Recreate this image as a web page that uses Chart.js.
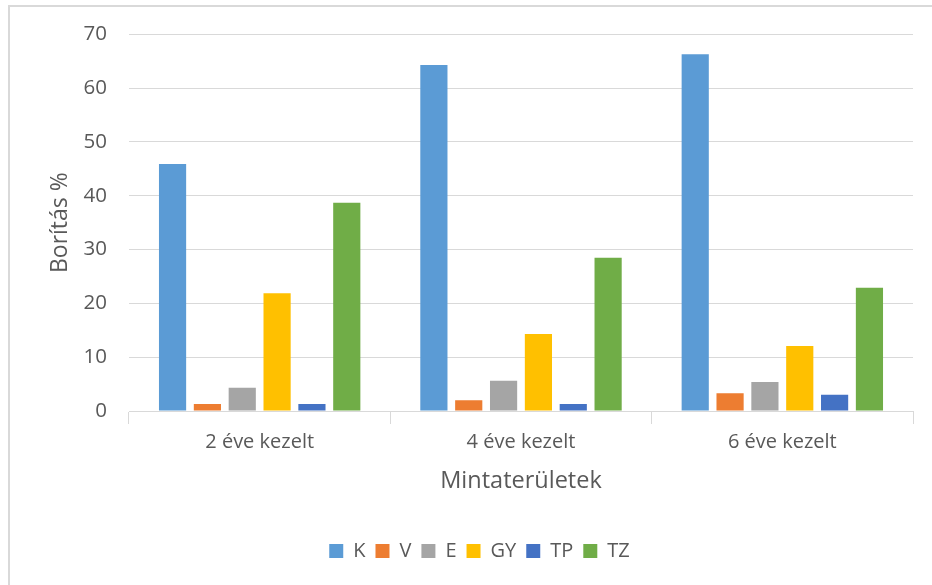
<!DOCTYPE html>
<html>
<head>
<meta charset="utf-8">
<script src="https://cdn.jsdelivr.net/npm/chart.js@4"></script>
<style>
  html, body { margin: 0; padding: 0; background: #fff; overflow: hidden; }
  #wrap { position: relative; width: 932px; height: 585px; }
  #frame { position: absolute; left: 8px; top: 5px; width: 1000px; height: 700px; border: 2px solid #d9d9d9; box-sizing: border-box; }
  canvas { position: absolute; left: 0; top: 0; }
</style>
</head>
<body>
<div id="wrap">
  <div id="frame"></div>
  <canvas id="chart" width="932" height="585"></canvas>
</div>
<script>
const categories = ['2 éve kezelt', '4 éve kezelt', '6 éve kezelt']
const seriesNames = ['K', 'V', 'E', 'GY', 'TP', 'TZ']
const K = [45.9, 64.3, 66.3]
const V = [1.3, 2.0, 3.3]
const E = [4.3, 5.6, 5.4]
const GY = [21.9, 14.3, 12.1]
const TP = [1.3, 1.3, 3.0]
const TZ = [38.7, 28.5, 22.9]
const colors = ['#5B9BD5', '#ED7D31', '#A5A5A5', '#FFC000', '#4472C4', '#70AD47']

const txt = '#595959'
const fam = '"Open Sans", sans-serif'

// legend sits centred under the plot area, not the whole canvas
const shiftLegend = {
    id: 'shiftLegend',
    afterLayout(chart) {
        chart.legend.left += 17
        chart.legend.right += 17
    }
}

let ctx = document.querySelector('#chart').getContext('2d')

let chart = new Chart(ctx, {
    type: 'bar',
    data: {
        labels: categories,
        datasets: [K, V, E, GY, TP, TZ].map((d, i) => ({
            label: seriesNames[i],
            data: d,
            backgroundColor: colors[i],
            borderWidth: 0,
            categoryPercentage: 0.8,
            barPercentage: 0.78
        }))
    },
    plugins: [shiftLegend],
    options: {
        responsive: false,
        animation: false,
        layout: { padding: { left: 12, top: 22, right: 19, bottom: 14 } },
        plugins: {
            tooltip: { enabled: false },
            legend: {
                position: 'bottom',
                labels: {
                    color: txt,
                    font: { family: fam, size: 20 },
                    boxWidth: 14,
                    boxHeight: 14,
                    padding: 10
                }
            }
        },
        scales: {
            x: {
                afterFit: s => { s.height = 120 },
                grid: {
                    offset: true,
                    drawOnChartArea: false,
                    tickLength: 13,
                    color: '#d9d9d9'
                },
                border: { color: '#d9d9d9', width: 1 },
                ticks: { color: txt, font: { family: fam, size: 20 }, padding: 6 },
                title: {
                    display: true,
                    text: 'Mintaterületek',
                    color: txt,
                    font: { family: fam, size: 23.5 },
                    padding: { top: 0, bottom: 36 }
                }
            },
            y: {
                min: 0,
                max: 70,
                afterFit: s => { s.width = 117 },
                ticks: { stepSize: 10, color: txt, font: { family: fam, size: 20.5 }, padding: 22 },
                grid: { color: '#d9d9d9', drawTicks: false },
                border: { display: false },
                title: {
                    display: true,
                    text: 'Borítás %',
                    color: txt,
                    font: { family: fam, size: 23 },
                    padding: { top: 35, bottom: 0 }
                }
            }
        }
    }
})
</script>
</body>
</html>
